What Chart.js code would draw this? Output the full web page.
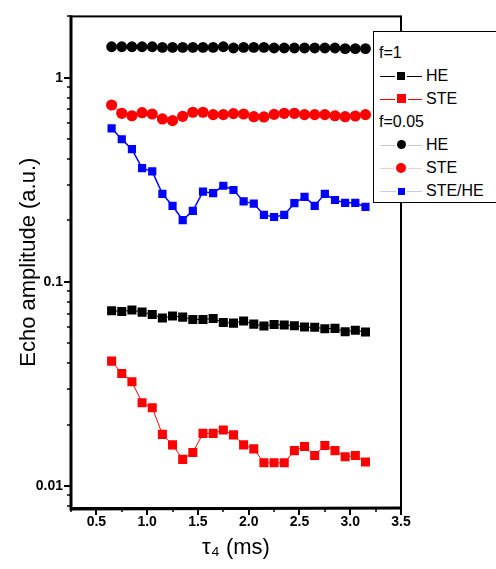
<!DOCTYPE html>
<html>
<head>
<meta charset="utf-8">
<script src="https://cdn.jsdelivr.net/npm/chart.js@4.4.0/dist/chart.umd.min.js"></script>
<style>
    body { margin: 0; background: #fff; }
    #wrap { position: relative; width: 496px; height: 569px; font-family: 'Liberation Sans', Arial, sans-serif; }
    #legend {
        position: absolute; left: 373px; top: 31px; width: 122px; height: 170px;
        border: 1px solid #000; background: #fff;
    }
    .row { position: absolute; left: 0; height: 20px; line-height: 20px; font-size: 16px; color: #000; }
    .row .txt { position: absolute; white-space: nowrap; }
    .row .ln { position: absolute; left: 6px; width: 42px; top: 10px; height: 1px; }
    .row .mk { position: absolute; box-shadow: 0 0 0 2px #fff; }
</style>
</head>
<body>
<div id="wrap">
    <canvas id="echoChart" width="496" height="569"></canvas>
    <div id="legend"></div>
</div>
<script>
// tau_4 values (ms)
const tau = [0.65, 0.75, 0.85, 0.95, 1.05, 1.15, 1.25, 1.35, 1.45, 1.55, 1.65, 1.75, 1.85,
             1.95, 2.05, 2.15, 2.25, 2.35, 2.45, 2.55, 2.65, 2.75, 2.85, 2.95, 3.05, 3.15];

// f=1
const f1HE  = [0.0722, 0.0716, 0.0728, 0.0711, 0.0693, 0.0665, 0.0680, 0.0672, 0.0655, 0.0655, 0.0662, 0.0633, 0.0628,
               0.0643, 0.0621, 0.0608, 0.0619, 0.0615, 0.0610, 0.0601, 0.0599, 0.0590, 0.0592, 0.0570, 0.0579, 0.0568];
const f1STE = [0.0409, 0.0356, 0.0324, 0.0256, 0.0242, 0.0179, 0.0159, 0.0135, 0.0146, 0.0181, 0.0181, 0.0188, 0.0178,
               0.0159, 0.0152, 0.0130, 0.0130, 0.0130, 0.0149, 0.0156, 0.0141, 0.0158, 0.0149, 0.0139, 0.0141, 0.0131];

// f=0.05
const f05HE    = [1.42, 1.42, 1.42, 1.42, 1.42, 1.41, 1.41, 1.41, 1.41, 1.41, 1.41, 1.42, 1.40,
                  1.41, 1.41, 1.41, 1.40, 1.40, 1.40, 1.40, 1.40, 1.40, 1.40, 1.39, 1.39, 1.39];
const f05STE   = [0.736, 0.670, 0.652, 0.675, 0.665, 0.629, 0.617, 0.648, 0.678, 0.678, 0.660, 0.660, 0.668,
                  0.665, 0.645, 0.643, 0.662, 0.670, 0.670, 0.660, 0.660, 0.660, 0.652, 0.645, 0.650, 0.660];
const f05Ratio = [0.566, 0.500, 0.447, 0.361, 0.348, 0.270, 0.236, 0.201, 0.223, 0.277, 0.272, 0.296, 0.282,
                  0.248, 0.242, 0.213, 0.208, 0.213, 0.243, 0.261, 0.236, 0.270, 0.252, 0.244, 0.244, 0.233];

// axes
const xMin = 0.25, xMax = 3.5, xStep = 0.25;
const yMin = 0.0078, yMax = 2;
const yLabels = { 1: '1', 0.1: '0.1', 0.01: '0.01' };

function pts(arr) {
    return tau.map((t, i) => ({ x: t, y: arr[i] }));
}

// tick list for the log axis: 1..9 x 10^n inside the range
function logTicks() {
    const out = [];
    for (let e = -3; e <= 0; e++) {
        for (let m = 1; m <= 9; m++) {
            const v = parseFloat((m * Math.pow(10, e)).toPrecision(6));
            if (v >= yMin && v <= yMax) out.push({ value: v, major: m === 1 });
        }
    }
    return out;
}

// frame + outward tick marks
const framePlugin = {
    id: 'frame',
    afterDraw(chart) {
        const { ctx, chartArea: a, scales } = chart;
        ctx.save();
        ctx.strokeStyle = '#000';
        ctx.lineWidth = 2;
        ctx.strokeRect(a.left, a.top, a.right - a.left, a.bottom - a.top);
        ctx.lineWidth = 3;
        ctx.beginPath();
        ctx.moveTo(a.left, a.top - 1);
        ctx.lineTo(a.left, a.bottom + 1);
        ctx.lineTo(a.right + 1, a.bottom);
        ctx.stroke();

        scales.x.ticks.forEach(t => {
            const px = Math.round(scales.x.getPixelForValue(t.value));
            const major = Math.abs(t.value * 2 - Math.round(t.value * 2)) < 1e-6;
            ctx.lineWidth = major ? 2 : 1.5;
            ctx.beginPath();
            ctx.moveTo(px, a.bottom);
            ctx.lineTo(px, a.bottom + (major ? 7 : 4));
            ctx.stroke();
        });
        scales.y.ticks.forEach(t => {
            const py = Math.round(scales.y.getPixelForValue(t.value));
            ctx.lineWidth = t.major ? 2 : 1.5;
            ctx.beginPath();
            ctx.moveTo(a.left, py);
            ctx.lineTo(a.left - (t.major ? 7 : 4), py);
            ctx.stroke();
        });
        ctx.restore();
    }
};

Chart.defaults.font.family = "'Liberation Sans', Arial, sans-serif";
Chart.defaults.color = '#000';

const ctx = document.getElementById('echoChart');
new Chart(ctx, {
    type: 'line',
    data: {
        datasets: [
            {
                label: 'HE (f=1)',
                data: pts(f1HE),
                borderColor: '#000', backgroundColor: '#000', borderWidth: 1,
                pointStyle: 'rect', pointRadius: 6.4, pointBorderWidth: 0
            },
            {
                label: 'STE (f=1)',
                data: pts(f1STE),
                borderColor: '#ff0000', backgroundColor: '#ff0000', borderWidth: 1,
                pointStyle: 'rect', pointRadius: 6.4, pointBorderWidth: 0
            },
            {
                label: 'HE (f=0.05)',
                data: pts(f05HE),
                borderColor: '#000', backgroundColor: '#000', borderWidth: 1,
                pointStyle: 'circle', pointRadius: 5.4, pointBorderWidth: 0
            },
            {
                label: 'STE (f=0.05)',
                data: pts(f05STE),
                borderColor: '#ff0000', backgroundColor: '#ff0000', borderWidth: 1,
                pointStyle: 'circle', pointRadius: 5.6, pointBorderWidth: 0
            },
            {
                label: 'STE/HE (f=0.05)',
                data: pts(f05Ratio),
                borderColor: '#0000ff', backgroundColor: '#0000ff', borderWidth: 1.5,
                pointStyle: 'rect', pointRadius: 5.8, pointBorderWidth: 0
            }
        ]
    },
    options: {
        responsive: false,
        animation: false,
        layout: { padding: { top: 14, right: 95, bottom: 0, left: 0 } },
        plugins: {
            legend: { display: false },
            tooltip: { enabled: false }
        },
        scales: {
            x: {
                type: 'linear',
                min: xMin,
                max: xMax,
                afterBuildTicks: scale => {
                    const ticks = [];
                    for (let v = xMin; v <= xMax + 1e-9; v += xStep) ticks.push({ value: Math.round(v * 100) / 100 });
                    scale.ticks = ticks;
                },
                afterFit: scale => { scale.height = 61; },
                ticks: {
                    autoSkip: false,
                    maxRotation: 0,
                    padding: 6,
                    font: { size: 14, weight: 'bold' },
                    callback: v => (Math.abs(v * 2 - Math.round(v * 2)) < 1e-6 ? v.toFixed(1) : '')
                },
                grid: { display: false, drawTicks: false },
                border: { display: false },
                title: {
                    display: true,
                    text: 'τ₄ (ms)',
                    font: { size: 22 },
                    padding: { top: 0, bottom: 8 }
                }
            },
            y: {
                type: 'logarithmic',
                min: yMin,
                max: yMax,
                afterBuildTicks: scale => { scale.ticks = logTicks(); },
                afterFit: scale => { scale.width = 71; },
                ticks: {
                    autoSkip: false,
                    padding: 8,
                    font: { size: 14, weight: 'bold' },
                    callback: v => yLabels[v] || ''
                },
                grid: { display: false, drawTicks: false },
                border: { display: false },
                title: {
                    display: true,
                    text: 'Echo amplitude (a.u.)',
                    font: { size: 22 },
                    padding: { top: 16, bottom: 0 }
                }
            }
        }
    },
    plugins: [framePlugin]
});

// legend (boxed, with group headings)
const legendRows = [
    { text: 'f=1' },
    { text: 'HE', line: '#000000', color: '#000', shape: 'square', size: 8 },
    { text: 'STE', line: '#ff0000', color: '#ff0000', shape: 'square', size: 9 },
    { text: 'f=0.05' },
    { text: 'HE', line: '#c8c8c8', color: '#000', shape: 'circle', size: 9 },
    { text: 'STE', line: '#ffc8c8', color: '#ff0000', shape: 'circle', size: 10 },
    { text: 'STE/HE', line: '#c8c8ff', color: '#0000ff', shape: 'square', size: 7 }
];
const legend = document.getElementById('legend');
legendRows.forEach((r, i) => {
    const row = document.createElement('div');
    row.className = 'row';
    row.style.top = (10.5 + i * 23.1) + 'px';
    row.style.width = '122px';
    if (!r.line) {
        row.innerHTML = '<span class="txt" style="left:5px">' + r.text + '</span>';
    } else {
        const s = r.size;
        const mk = '<span class="mk" style="left:' + (27 - s / 2) + 'px;top:' + (10 - s / 2) + 'px;width:' + s + 'px;height:' + s +
            'px;background:' + r.color + ';border-radius:' + (r.shape === 'circle' ? '50%' : '0') + '"></span>';
        row.innerHTML = '<span class="ln" style="background:' + r.line + '"></span>' + mk +
            '<span class="txt" style="left:52px">' + r.text + '</span>';
    }
    legend.appendChild(row);
});
</script>
</body>
</html>
